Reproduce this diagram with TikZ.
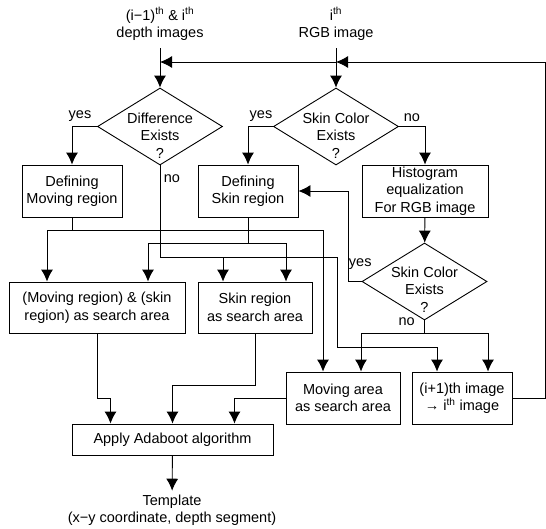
\documentclass[tikz,border=0pt]{standalone}
\usepackage{fontspec}
\setmainfont{Liberation Sans}
\usetikzlibrary{shapes.geometric,arrows.meta}
\tikzset{every node/.style={align=center}, >={Latex[length=12pt,width=12pt]}, font=\fontsize{14.5}{17.5}\selectfont}

\begin{document}
\begin{tikzpicture}[x=1pt, y=-1pt, line width=0.9pt,
    box/.style={draw, rectangle, minimum width=100pt, minimum height=52pt, inner sep=0pt},
    decision/.style={draw, diamond, minimum width=125pt, minimum height=77pt, inner sep=0pt}]
             \useasboundingbox (0,0) rectangle (546,528);
             \node (in1) at (160,24) {(i−1)\textsuperscript{th} \& i\textsuperscript{th}\\depth images};
             \node (in2) at (336,24) {i\textsuperscript{th}\\RGB image};
             \node [decision, label={[yshift=-9pt]center:Difference\\Exists\\?}] (d1) at (160,126.5) {};
             \node [decision, label={[yshift=-9pt]center:Skin Color\\Exists\\?}] (d2) at (336,126.5) {};
             \node [box] (b1) at (72,191) {Defining\\Moving region};
             \node [box] (b2) at (248,191) {Defining\\Skin region};
             \node [box, minimum width=126pt] (b3) at (425,191) {Histogram\\equalization\\For RGB image};
             \node [decision, label={[yshift=-8pt]center:Skin Color\\Exists\\?}] (d3) at (424.5,281.5) {};
             \node [box, minimum width=176pt, minimum height=51pt] (b4) at (97,307.5) {(Moving region) \& (skin\\region) as search area};
             \node [box, minimum width=114pt, minimum height=51pt] (b5) at (255,307.5) {Skin region\\as search area};
             \node [box, minimum width=114pt] (b6) at (343,398) {Moving area\\as search area};
             \node [box] (b7) at (462,398) {(i+1)th image\\→ i\textsuperscript{th} image};
             \node [box, minimum width=201pt, minimum height=31pt] (b8) at (172.5,439.5) {Apply Adaboot algorithm};
             \node (tpl) at (172,510) {Template\\(x−y coordinate, depth segment)};

             \coordinate (fb) at (545,62);
             \coordinate (j1) at (72,230);
             \coordinate (j2) at (248,243);
             \coordinate (j3) at (160,257);
             \coordinate (j4) at (424.5,333);
             \coordinate (k1) at (337,347);

             % inputs and feedback
             \draw[->] ([yshift=-4pt]in1.south) -- (d1.north);
             \draw[->] ([yshift=-4pt]in2.south) -- (d2.north);
             \draw (b7.east) -| (fb);
             \draw[->] (fb) -- (in2.south |- fb);
             \draw[->] (in2.south |- fb) -- (in1.south |- fb);

             % decisions
             \draw[->] (d1.west) -| node[pos=0.34, above=1.5pt] {yes} (b1.north);
             \draw[->] (d2.west) -| node[pos=0.24, above=1.5pt] {yes} (b2.north);
             \draw[->] (d2.east) -| node[pos=0.25, above=1.5pt] {no} (b3.north);
             \draw (d1.south) -- node[pos=0.14, right] {no} (j3);
             \draw[->] (j3) -| ([xshift=-32pt]b5.north);
             \draw[->] (j3) -| (k1) -| ([xshift=-25pt]b7.north);
             \draw (b1.south) -- (j1);
             \draw[->] (j1) -| ([xshift=-50pt]b4.north);
             \draw[->] (j1) -| ([xshift=-20pt]b6.north);
             \draw (b2.south) -- (j2);
             \draw[->] (j2) -| ([xshift=51pt]b4.north);
             \draw[->] (j2) -| ([xshift=31pt]b5.north);
             \draw[->] (b3) -- (d3);
             \draw[->] (d3.west) -- node[pos=0.1, above=8pt] {yes} ++(-13,0) |- (b2.east);
             \draw (d3.south) -- node[pos=0.1, left=6pt] {no} (j4);
             \draw[->] (j4) -| ([xshift=18pt]b6.north);
             \draw[->] (j4) -| ([xshift=26pt]b7.north);

             % to adaboost
             \draw[->] (b4.south) -- ++(0,65) -| ([xshift=-62pt]b8.north);
             \draw[->] (b5.south) -- ++(0,52) -| (b8.north);
             \draw[->] (b6.west) -| ([xshift=62pt]b8.north);
             \draw[->] (b8) -- (tpl);
         \end{tikzpicture}
\end{document}
